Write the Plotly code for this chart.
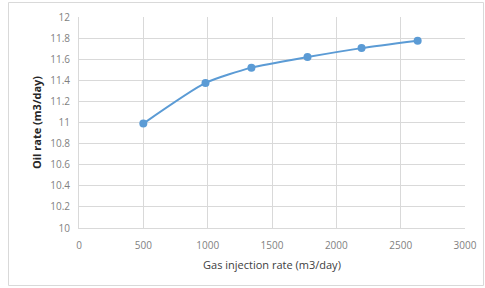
import plotly.graph_objects as go

gas_rate = [500, 983, 1340, 1776, 2196, 2632]
oil_rate = [10.99, 11.375, 11.52, 11.62, 11.705, 11.775]

x_ticks = [0, 500, 1000, 1500, 2000, 2500, 3000]
y_ticks = [10, 10.2, 10.4, 10.6, 10.8, 11, 11.2, 11.4, 11.6, 11.8, 12]

W, H = 485, 288
ml, mr, mt, mb = 79, 20, 17, 60
pw, ph = W - ml - mr, H - mt - mb

fig = go.Figure()
fig.add_trace(go.Scatter(
    x=gas_rate, y=oil_rate, mode="lines+markers",
    line=dict(color="#5B9BD5", width=2, shape="spline", smoothing=0.6),
    marker=dict(color="#5B9BD5", size=8, symbol="circle"),
    showlegend=False, cliponaxis=False,
))

font_family = "Open Sans, Lato, Liberation Sans, sans-serif"
fig.update_layout(
    width=W, height=H,
    margin=dict(l=ml, r=mr, t=mt, b=mb, autoexpand=False),
    paper_bgcolor="white", plot_bgcolor="white",
    font=dict(family=font_family, color="#595959", size=10),
    xaxis=dict(
        range=[0, 3000], tickvals=x_ticks, ticktext=[str(v) for v in x_ticks],
        showgrid=True, gridcolor="#D9D9D9", gridwidth=1,
        showline=True, linecolor="#D9D9D9", zeroline=False,
        ticks="", ticklabelstandoff=8, automargin=False,
        tickfont=dict(size=10, color="#7F7F7F"),
        title=dict(text="Gas injection rate (m3/day)", font=dict(size=11, color="#404040"), standoff=10),
    ),
    yaxis=dict(
        range=[10, 12], tickvals=y_ticks, ticktext=[f"{v:g}" for v in y_ticks],
        showgrid=True, gridcolor="#D9D9D9", gridwidth=1,
        showline=True, linecolor="#D9D9D9", zeroline=False,
        ticks="", ticklabelstandoff=6, automargin=False,
        tickfont=dict(size=10, color="#7F7F7F"),
        title=dict(text="<b>Oil rate (m3/day)</b>", font=dict(size=11, color="#262626"), standoff=6),
    ),
)

# outer chart border
fig.add_shape(
    type="rect", xref="paper", yref="paper",
    x0=(8.5 - ml) / pw, x1=(483.5 - ml) / pw,
    y0=(H - mb - 285.5) / ph, y1=(H - mb - 2.5) / ph,
    line=dict(color="#D9D9D9", width=1), fillcolor="rgba(0,0,0,0)", layer="above",
)

fig.write_html("out.html", config={"displayModeBar": False, "staticPlot": True},
               post_script="document.body.style.margin='0';")
